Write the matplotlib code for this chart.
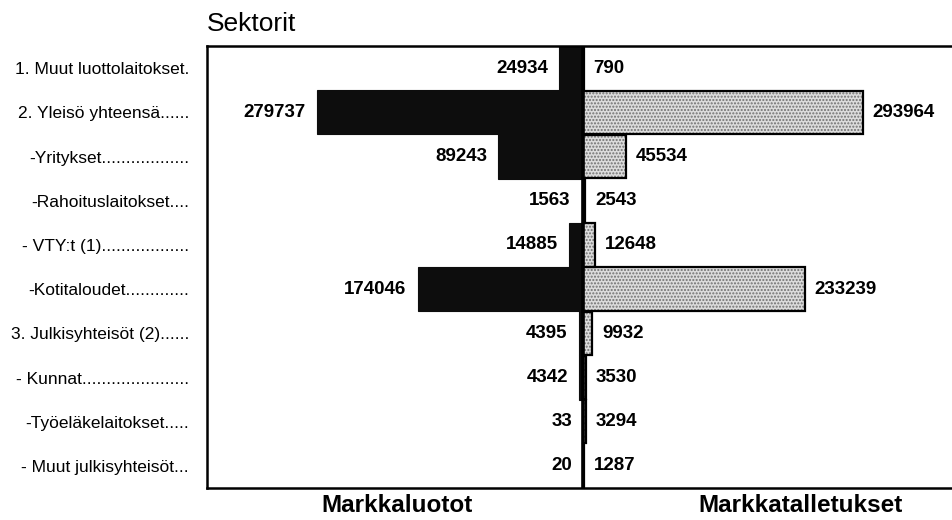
import numpy as np
import matplotlib.pyplot as plt

# Sector rows, top to bottom
sektorit = ['1. Muut luottolaitokset.',
            '2. Yleisö yhteensä......',
            '-Yritykset..................',
            '-Rahoituslaitokset....',
            '- VTY:t (1)..................',
            '-Kotitaloudet.............',
            '3. Julkisyhteisöt (2)......',
            '- Kunnat......................',
            '-Työeläkelaitokset.....',
            '- Muut julkisyhteisöt...']
luotot = [24934, 279737, 89243, 1563, 14885, 174046, 4395, 4342, 33, 20]
talletukset = [790, 293964, 45534, 2543, 12648, 233239, 9932, 3530, 3294, 1287]

plt.rcParams['font.family'] = ['Liberation Sans', 'DejaVu Sans']

fig = plt.figure(figsize=(9.52, 5.2), dpi=100)
ax = fig.add_axes([207/952, 32/520, 1 - 207/952, 442/520])

y = np.arange(len(sektorit))

# left bars (loans), dark
ax.barh(y, -np.array(luotot), height=1.0, color='#0d0d0d', edgecolor='#0d0d0d', linewidth=0.8)

# right bars (deposits), light speckled gray with black outline
ax.barh(y, talletukset, height=0.98, color='#dcdcdc', edgecolor='#707070',
        hatch='.....', linewidth=0)
ax.barh(y, talletukset, height=0.98, fill=False, edgecolor='black', linewidth=1.6)

ax.axvline(0, color='black', linewidth=2.6)

for i in range(len(y)):
    ax.annotate(str(luotot[i]), xy=(-luotot[i], y[i]), xytext=(-8, 0),
                textcoords='offset points', ha='right', va='center',
                fontsize=13.5, fontweight='bold')
    ax.annotate(str(talletukset[i]), xy=(talletukset[i], y[i]), xytext=(7, 0),
                textcoords='offset points', ha='left', va='center',
                fontsize=13.5, fontweight='bold')

ax.set_xlim(-395400, 388000)
ax.set_ylim(len(sektorit) - 0.5, -0.5)
ax.set_xticks([])
ax.set_yticks(y)
ax.set_yticklabels(sektorit, fontsize=12.5)
ax.tick_params(axis='y', length=0, pad=13)
ax.spines['right'].set_visible(False)
for s in ['left', 'top', 'bottom']:
    ax.spines[s].set_linewidth(1.8)

fig.text(207/952, 1 - 24/520, 'Sektorit', fontsize=19, ha='left', va='center')
fig.text(397/952, 3/520, 'Markkaluotot', fontsize=17.5, fontweight='bold', ha='center', va='bottom')
fig.text(800/952, 3/520, 'Markkatalletukset', fontsize=17.5, fontweight='bold', ha='center', va='bottom')

plt.savefig('out.png', dpi=100)
